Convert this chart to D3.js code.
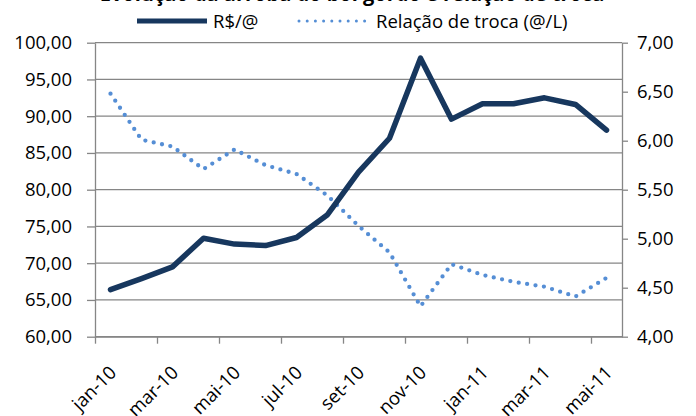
<!DOCTYPE html>
<html>
<head>
<meta charset="utf-8">
<script src="https://cdn.jsdelivr.net/npm/d3@7"></script>
<style>
  body { margin: 0; background: #fff; }
  text { font-family: "Open Sans", sans-serif; fill: #000; }
</style>
</head>
<body>
<div id="chart"></div>
<script>
var months = ["jan-10", "fev-10", "mar-10", "abr-10", "mai-10", "jun-10", "jul-10", "ago-10",
              "set-10", "out-10", "nov-10", "dez-10", "jan-11", "fev-11", "mar-11", "abr-11", "mai-11"];
var precoArroba = [66.4, 67.9, 69.5, 73.4, 72.6, 72.4, 73.5, 76.6,
                   82.4, 87.0, 97.9, 89.6, 91.7, 91.7, 92.5, 91.6, 88.1];
var relacaoTroca = [6.48, 6.01, 5.94, 5.71, 5.91, 5.75, 5.66, 5.44,
                    5.13, 4.86, 4.31, 4.74, 4.63, 4.56, 4.51, 4.41, 4.60];
var leftTicks = [60, 65, 70, 75, 80, 85, 90, 95, 100];
var rightTicks = [4, 4.5, 5, 5.5, 6, 6.5, 7];

var width = 696,
    height = 416,
    plot = {left: 95, right: 622, top: 42.7, bottom: 336.7},
    fontSize = "18.5px",
    gray = "#868686",
    darkBlue = "#17375E",
    lightBlue = "#558ED5";

var fmt = function (v) { return d3.format(".2f")(v).replace(".", ","); };

var svg = d3.select("#chart").append("svg")
    .attr("width", width)
    .attr("height", height);

var x = d3.scaleLinear().domain([0, months.length]).range([plot.left, plot.right]);
var yL = d3.scaleLinear().domain([60, 100]).range([plot.bottom, plot.top]);
var yR = d3.scaleLinear().domain([4, 7]).range([plot.bottom, plot.top]);

// title, only its lower edge shows in the picture
svg.append("text")
  .attr("x", 352)
  .attr("y", 1)
  .attr("text-anchor", "middle")
  .style("font-size", "20px")
  .style("font-weight", "bold")
  .text("Evolução da arroba do boi gordo e relação de troca");

// gridlines
svg.selectAll("line.grid")
  .data(leftTicks)
  .enter().append("line")
    .attr("class", "grid")
    .attr("x1", plot.left)
    .attr("x2", plot.right)
    .attr("y1", function (d) { return yL(d); })
    .attr("y2", function (d) { return yL(d); })
    .style("stroke", gray)
    .style("stroke-width", 1.3);

// left axis
var gL = svg.append("g")
    .attr("transform", "translate(" + plot.left + ",0)")
    .call(d3.axisLeft(yL).tickValues(leftTicks).tickFormat(fmt).tickSize(8).tickSizeOuter(0).tickPadding(15));

// right axis
var gR = svg.append("g")
    .attr("transform", "translate(" + plot.right + ",0)")
    .call(d3.axisRight(yR).tickValues(rightTicks).tickFormat(fmt).tickSize(6).tickSizeOuter(0).tickPadding(9));

// bottom axis
var gB = svg.append("g")
    .attr("transform", "translate(0," + plot.bottom + ")")
    .call(d3.axisBottom(x)
      .tickValues(d3.range(0, months.length, 2))
      .tickFormat(function (i) { return months[i]; })
      .tickSize(7)
      .tickSizeOuter(0));

gB.selectAll("text")
  .attr("x", 0)
  .attr("y", 0)
  .attr("dy", 0)
  .attr("transform", "translate(22,37) rotate(-45)")
  .style("text-anchor", "end");

[gL, gR, gB].forEach(function (g) {
  g.selectAll("path, line").style("stroke", gray).style("stroke-width", 1.3);
  g.selectAll("text").style("font-size", fontSize).style("font-family", "Open Sans, sans-serif").attr("fill", "#000");
});

// series
var lineL = d3.line()
    .x(function (d, i) { return x(i + 0.5); })
    .y(function (d) { return yL(d); });

var lineR = d3.line()
    .x(function (d, i) { return x(i + 0.5); })
    .y(function (d) { return yR(d); });

svg.append("path")
  .datum(relacaoTroca)
  .attr("d", lineR)
  .style("fill", "none")
  .style("stroke", lightBlue)
  .style("stroke-width", 4.3)
  .style("stroke-linecap", "round")
  .style("stroke-dasharray", "0 8.5");

svg.append("path")
  .datum(precoArroba)
  .attr("d", lineL)
  .style("fill", "none")
  .style("stroke", darkBlue)
  .style("stroke-width", 5.5)
  .style("stroke-linejoin", "round")
  .style("stroke-linecap", "round");

// legend
var legend = svg.append("g");

legend.append("line")
  .attr("x1", 137).attr("x2", 207)
  .attr("y1", 21).attr("y2", 21)
  .style("stroke", darkBlue)
  .style("stroke-width", 5);

legend.append("text")
  .attr("x", 213).attr("y", 28)
  .style("font-size", fontSize)
  .text("R$/@");

legend.append("line")
  .attr("x1", 299).attr("x2", 365)
  .attr("y1", 21).attr("y2", 21)
  .style("stroke", lightBlue)
  .style("stroke-width", 3)
  .style("stroke-linecap", "round")
  .style("stroke-dasharray", "0 8.2");

legend.append("text")
  .attr("x", 376).attr("y", 28)
  .style("font-size", fontSize)
  .text("Relação de troca (@/L)");
</script>
</body>
</html>
